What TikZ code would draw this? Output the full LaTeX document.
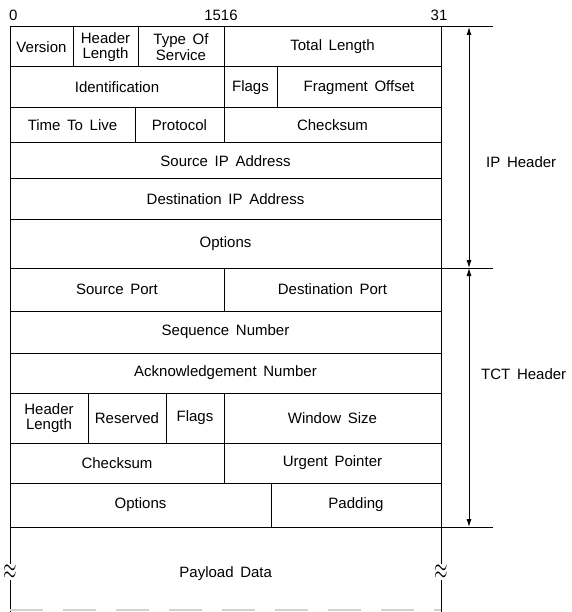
\documentclass[tikz,border=0pt]{standalone}
\usepackage{fontspec}
\setmainfont{Liberation Sans}[WordSpace=1.6]
\usetikzlibrary{arrows.meta, positioning}

\begin{document}
\begin{tikzpicture}[
    x=1pt, y=-1pt,
    font=\fontsize{15}{15.5}\selectfont,
    field/.style={
        rectangle,
        draw=black,
        line width=1pt,
        inner sep=1pt,
        outer sep=0pt,
        align=center,
        minimum width=#1
    },
    tall/.style={minimum height=#1},
    edge/.style={line width=1pt},
    dim/.style={{Latex[length=8pt,width=5pt]}-{Latex[length=8pt,width=5pt]}, line width=0.9pt},
    brk/.style={fill=white, inner sep=0.5pt},
    lbl/.style={anchor=west, inner sep=0pt}
]
\useasboundingbox (0,0) rectangle (571,612);

% bit numbers
\node[lbl] (bit0) at (9,15) {0};
\node[inner sep=0pt] (bit16) at (221,15) {1516};
\node[inner sep=0pt] (bit31) at (439,15) {31};

% IP header
\node[field=63, tall=40, anchor=north west] (version) at (10,27) {Version};
\node[field=65, tall=40, right=0pt of version] (hlen) {Header\\Length};
\node[field=86, tall=40, right=0pt of hlen] (tos) {Type Of\\Service};
\node[field=217, tall=40, right=0pt of tos] (totlen) {Total Length};

\node[field=214, tall=41, anchor=north west] (ident) at (version.south west) {Identification};
\node[field=53, tall=41, right=0pt of ident] (ipflags) {Flags};
\node[field=164, tall=41, right=0pt of ipflags] (fragoff) {Fragment Offset};

\node[field=125, tall=35, anchor=north west] (ttl) at (ident.south west) {Time To Live};
\node[field=89, tall=35, right=0pt of ttl] (proto) {Protocol};
\node[field=217, tall=35, right=0pt of proto] (ipcheck) {Checksum};

\node[field=431, tall=36, anchor=north west] (srcip) at (ttl.south west) {Source IP Address};
\node[field=431, tall=40, anchor=north west] (dstip) at (srcip.south west) {Destination IP Address};
\node[field=431, tall=49, anchor=north west] (ipopt) at (dstip.south west) {Options};

% TCP header
\node[field=214, tall=43, anchor=north west] (srcport) at (ipopt.south west) {Source Port};
\node[field=217, tall=43, right=0pt of srcport] (dstport) {Destination Port};

\node[field=431, tall=42, anchor=north west] (seqnum) at (srcport.south west) {Sequence Number};
\node[field=431, tall=40, anchor=north west] (acknum) at (seqnum.south west) {Acknowledgement Number};

\node[field=78, tall=50, anchor=north west] (tcphlen) at (acknum.south west) {Header\\Length};
\node[field=78, tall=50, right=0pt of tcphlen] (reserved) {Reserved};
\node[field=58, tall=50, right=0pt of reserved] (tcpflags) {Flags};
\node[field=217, tall=50, right=0pt of tcpflags] (window) {Window Size};

\node[field=214, tall=40, anchor=north west] (tcpcheck) at (tcphlen.south west) {Checksum};
\node[field=217, tall=40, right=0pt of tcpcheck] (urgent) {Urgent Pointer};

\node[field=261, tall=44, anchor=north west] (tcpopt) at (tcpcheck.south west) {Options};
\node[field=170, tall=44, right=0pt of tcpopt] (padding) {Padding};

% payload
\node[anchor=north west, minimum width=431, minimum height=92, inner sep=0pt] (payload) at (tcpopt.south west) {Payload Data};
\coordinate (lend) at (10,612);
\coordinate (rend) at (441,612);
\draw[edge] (tcpopt.south west) -- (lend);
\draw[edge] (padding.south east) -- (rend);
\draw[gray!35, line width=1.2pt, dash pattern=on 33pt off 20pt] (10,610) -- (441,610);
\node[brk] (lbreak) at (10,572) {\scalebox{1.2}[2.1]{$\approx$}};
\node[brk] (rbreak) at (441,572) {\scalebox{1.2}[2.1]{$\approx$}};

% header extents
\coordinate (iptop) at (493,27);
\coordinate (ipbot) at (493,268);
\coordinate (tcpbot) at (493,527);
\draw[edge] (totlen.north east) -- (iptop);
\draw[edge] (ipopt.south east) -- (ipbot);
\draw[edge] (padding.south east) -- (tcpbot);
\draw[dim] ([xshift=28pt]totlen.north east) -- ([xshift=28pt]ipopt.south east);
\draw[dim] ([xshift=28pt]ipopt.south east) -- ([xshift=28pt]padding.south east);

\node[lbl] (iplabel) at (486,162) {IP Header};
\node[lbl] (tcplabel) at (481,374) {TCT Header};

\end{tikzpicture}
\end{document}
